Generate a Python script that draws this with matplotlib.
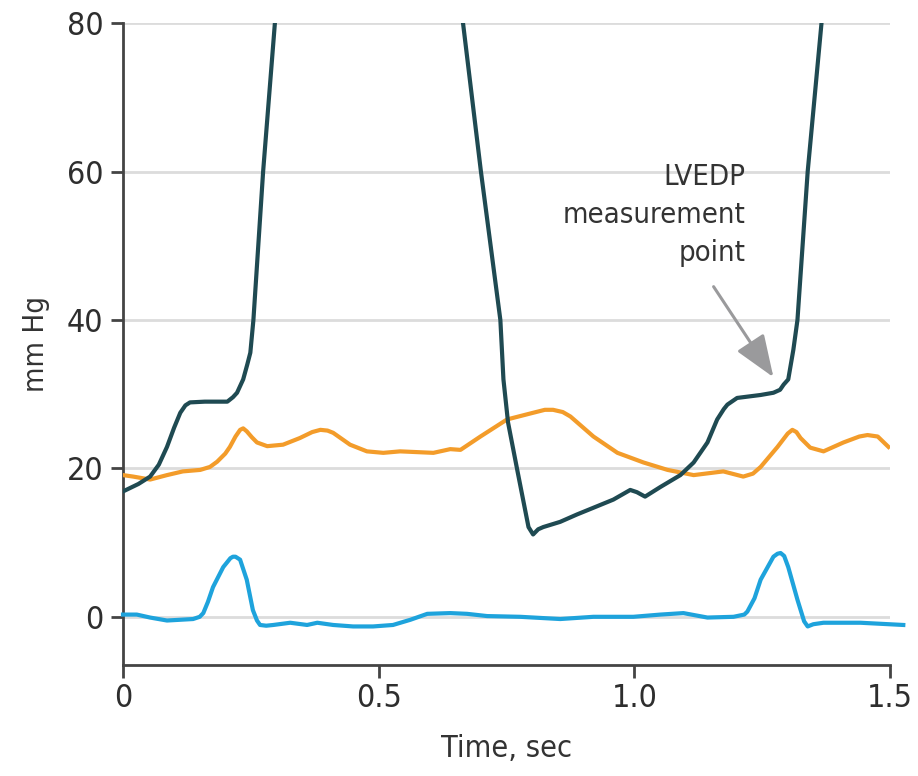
import numpy as np
import matplotlib
matplotlib.use("Agg")
from matplotlib import pyplot as plt

plt.rcParams['font.family'] = ['Liberation Sans Narrow', 'DejaVu Sans']
plt.rcParams['font.stretch'] = 'condensed'

# LV pressure (dark)
lv_t = [0.0, 0.03, 0.053, 0.07, 0.086, 0.1, 0.112, 0.122, 0.131, 0.16, 0.204, 0.215, 0.223, 0.235,
        0.243, 0.249, 0.255, 0.274, 0.297, 0.302,
        0.66, 0.665, 0.70, 0.738, 0.744, 0.753, 0.771, 0.793, 0.802, 0.812, 0.822, 0.855, 0.888, 0.92,
        0.959, 0.992, 1.005, 1.021, 1.051, 1.09, 1.116, 1.143, 1.162, 1.175, 1.182, 1.201, 1.247,
        1.272, 1.285, 1.292, 1.301, 1.311, 1.319, 1.339, 1.366, 1.37]
lv_p = [16.9, 17.9, 18.9, 20.5, 22.9, 25.5, 27.5, 28.5, 28.9, 29.0, 29.0, 29.6, 30.2, 32.0,
        34.0, 35.6, 40.0, 60.0, 80.0, 86.0,
        86.0, 80.0, 60.0, 40.0, 32.0, 26.2, 19.8, 12.1, 11.1, 11.8, 12.1, 12.8, 13.8, 14.7,
        15.8, 17.1, 16.8, 16.2, 17.5, 19.1, 20.8, 23.5, 26.6, 28.0, 28.6, 29.5, 29.9,
        30.2, 30.6, 31.3, 32.0, 36.0, 40.0, 60.0, 80.0, 86.0]

# second pressure trace (orange)
or_t = [0.0, 0.02, 0.053, 0.086, 0.117, 0.151, 0.17, 0.184, 0.2, 0.209, 0.22, 0.229, 0.235, 0.242,
        0.252, 0.262, 0.282, 0.313, 0.346, 0.37, 0.386, 0.4, 0.411, 0.444, 0.477, 0.509, 0.542,
        0.607, 0.64, 0.66, 0.699, 0.751, 0.802, 0.825, 0.841, 0.86, 0.875, 0.92, 0.967, 1.018,
        1.065, 1.116, 1.174, 1.213, 1.232, 1.247, 1.28, 1.3, 1.309, 1.317, 1.325, 1.344, 1.37,
        1.409, 1.44, 1.456, 1.476, 1.497]
or_p = [19.1, 18.9, 18.5, 19.1, 19.6, 19.8, 20.2, 20.9, 22.0, 22.9, 24.3, 25.2, 25.4, 25.0,
        24.2, 23.5, 23.0, 23.2, 24.1, 24.9, 25.2, 25.1, 24.8, 23.2, 22.3, 22.1, 22.3,
        22.1, 22.6, 22.5, 24.3, 26.6, 27.5, 27.9, 27.9, 27.6, 27.0, 24.3, 22.1, 20.8,
        19.8, 19.1, 19.6, 18.9, 19.3, 20.2, 22.9, 24.7, 25.2, 24.9, 24.1, 22.8, 22.3,
        23.5, 24.3, 24.5, 24.3, 22.9]

# third pressure trace (blue)
bl_t = [0.0, 0.027, 0.053, 0.086, 0.137, 0.15, 0.157, 0.166, 0.176, 0.196, 0.21, 0.215, 0.22, 0.229,
        0.242, 0.254, 0.262, 0.268, 0.28, 0.294, 0.327, 0.36, 0.38, 0.411, 0.45, 0.489, 0.528,
        0.562, 0.595, 0.64, 0.673, 0.712, 0.777, 0.855, 0.92, 0.998, 1.051, 1.096, 1.143, 1.194,
        1.215, 1.221, 1.235, 1.247, 1.272, 1.28, 1.286, 1.293, 1.301, 1.319, 1.332, 1.339, 1.35,
        1.37, 1.442, 1.526]
bl_p = [0.3, 0.3, -0.1, -0.5, -0.3, 0.0, 0.5, 2.0, 4.0, 6.7, 7.9, 8.1, 8.1, 7.7,
        5.0, 0.9, -0.5, -1.1, -1.2, -1.1, -0.8, -1.1, -0.8, -1.1, -1.3, -1.3, -1.1,
        -0.4, 0.4, 0.5, 0.4, 0.1, 0.0, -0.3, 0.0, 0.0, 0.3, 0.5, -0.1, 0.0,
        0.3, 0.7, 2.5, 5.0, 8.1, 8.5, 8.6, 8.2, 6.7, 2.3, -0.6, -1.3, -1.0,
        -0.8, -0.8, -1.1]

yticks = [0, 20, 40, 60, 80]
xticks = [0, 0.5, 1.0, 1.5]
xticklabels = ['0', '0.5', '1.0', '1.5']

fig = plt.figure(figsize=(9.18, 7.76), dpi=100)
ax = fig.add_axes([0.134, 0.143, 0.8355, 0.827])

ax.set_xlim(0, 1.5)
ax.set_ylim(-6.5, 80)

for y in yticks:
    ax.axhline(y, color='#dcdcdc', lw=2, zorder=0)

ax.plot(bl_t, bl_p, color='#1ea3dc', lw=3.0, clip_on=False, solid_joinstyle='round', zorder=3)
ax.plot(or_t, or_p, color='#f39c2a', lw=3.0, solid_joinstyle='round', zorder=3)
ax.plot(lv_t, lv_p, color='#1f4a52', lw=3.0, solid_joinstyle='round', zorder=4)

ax.annotate('', xy=(1.272, 32.3), xytext=(1.155, 44.5),
            arrowprops=dict(arrowstyle='-|>,head_length=2.6,head_width=1.0',
                            color='#9a9a9c', lw=2.2, shrinkA=0, shrinkB=0))
ax.text(1.218, 61.2, 'LVEDP\nmeasurement\npoint', ha='right', va='top',
        fontsize=21, color='#333333', linespacing=1.45)

ax.spines['top'].set_visible(False)
ax.spines['right'].set_visible(False)
for s in ['left', 'bottom']:
    ax.spines[s].set_color('#444444')
    ax.spines[s].set_linewidth(2)
ax.spines['left'].set_bounds(-6.5, 80)

ax.set_yticks(yticks)
ax.set_xticks(xticks)
ax.set_xticklabels(xticklabels)
ax.tick_params(axis='both', length=9, width=2, color='#444444', labelsize=23,
               labelcolor='#2e2e2e', pad=5)
ax.tick_params(axis='x', pad=4)

ax.set_xlabel('Time, sec', fontsize=22, color='#333333', labelpad=14)
ax.set_ylabel('mm Hg', fontsize=21, color='#333333', labelpad=12)

plt.savefig('out.png', dpi=100)
